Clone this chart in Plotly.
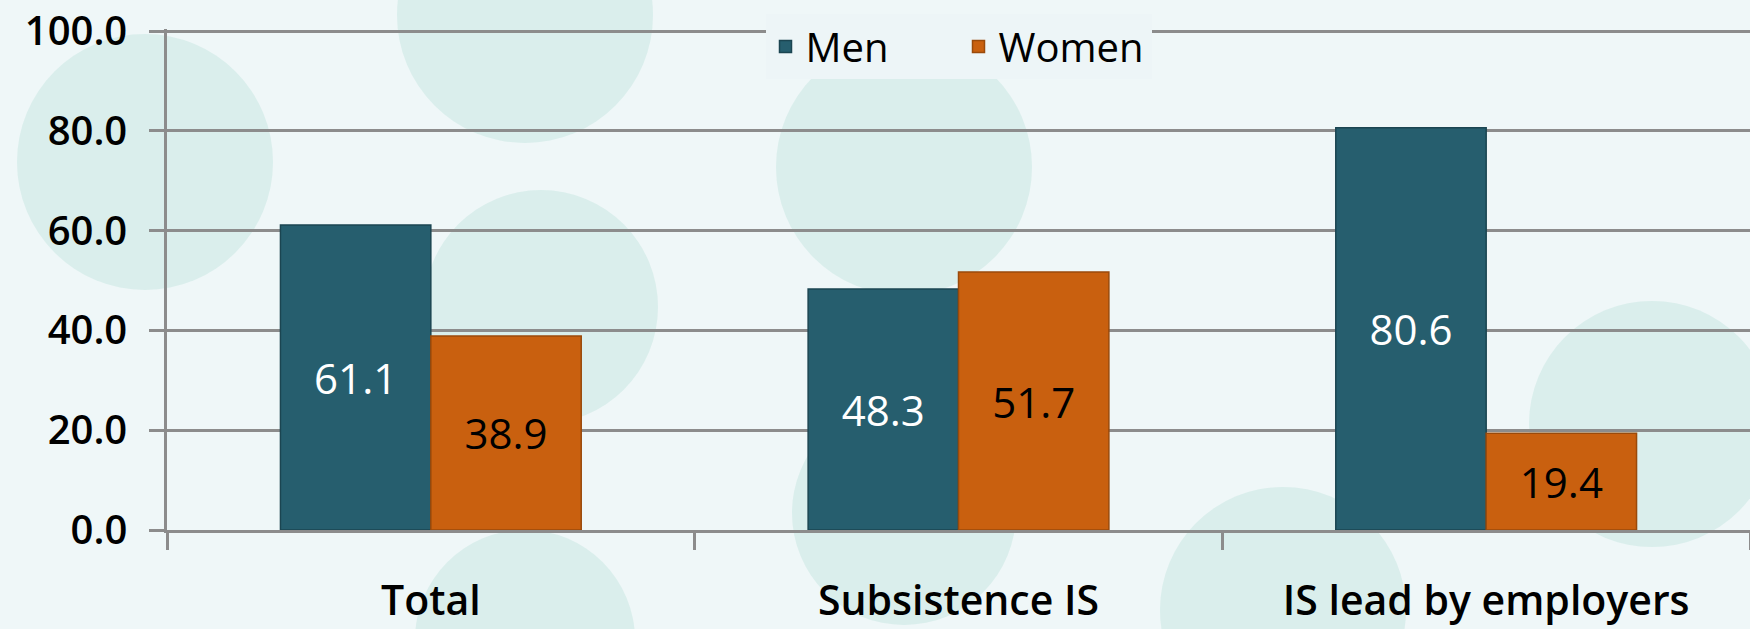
import plotly.graph_objects as go

categories = ["Total", "Subsistence IS", "IS lead by employers"]
men = [61.1, 48.3, 80.6]
women = [38.9, 51.7, 19.4]
series_names = ["Men", "Women"]
y_ticks = [0, 20, 40, 60, 80, 100]
y_tick_labels = ["0.0", "20.0", "40.0", "60.0", "80.0", "100.0"]

W, H = 1750, 629
L, R, T, B = 167, 0, 29, 99
PW, PH = W - L - R, H - T - B

FONT = "Open Sans"

fig = go.Figure()
fig.add_trace(go.Bar(
    name=series_names[0], x=categories, y=men,
    marker=dict(color="#265e6e", line=dict(color="#1b4551", width=1.5)),
    text=[f"{v:.1f}" for v in men], textposition="inside",
    insidetextanchor="middle", textangle=0,
    textfont=dict(family=FONT, size=42, color="white"),
))
fig.add_trace(go.Bar(
    name=series_names[1], x=categories, y=women,
    marker=dict(color="#c9600f", line=dict(color="#9a4a0b", width=1.5)),
    text=[f"{v:.1f}" for v in women], textposition="inside",
    insidetextanchor="middle", textangle=0,
    textfont=dict(family=FONT, size=42, color="black"),
))

# decorative background bubbles (pixel centre x, y, radius)
bubbles = [(145, 162, 128), (525, 15, 128), (904, 167, 128), (541, 307, 117),
           (904, 513, 112), (525, 640, 110), (1652, 424, 123), (1283, 610, 123)]
shapes = []
for cx, cy, r in bubbles:
    shapes.append(dict(
        type="circle", xref="paper", yref="paper", layer="below",
        x0=(cx - r - L) / PW, x1=(cx + r - L) / PW,
        y0=(H - B - (cy + r)) / PH, y1=(H - B - (cy - r)) / PH,
        fillcolor="rgba(170,218,210,0.3)", line=dict(width=0),
    ))

fig.update_layout(
    width=W, height=H,
    margin=dict(l=L, r=R, t=T, b=B, pad=0, autoexpand=False),
    paper_bgcolor="#eff7f8",
    plot_bgcolor="rgba(0,0,0,0)",
    barmode="group", bargap=0.43, bargroupgap=0,
    shapes=shapes,
    showlegend=True,
    legend=dict(
        orientation="h", x=0.5, xanchor="center", y=1.03, yanchor="top",
        bgcolor="#edf5f7", font=dict(family=FONT, size=40, color="black"),
        itemwidth=30, entrywidth=148, tracegroupgap=0,
    ),
    font=dict(family=FONT, color="black"),
)
fig.update_traces(constraintext="none", cliponaxis=False)
fig.update_yaxes(
    range=[0, 100.4], tickvals=y_ticks, ticktext=y_tick_labels,
    showgrid=True, gridcolor="#8c8c8c", gridwidth=2.5,
    showline=True, linecolor="#8c8c8c", linewidth=2.5,
    ticks="outside", ticklen=15, tickwidth=2.5, tickcolor="#8c8c8c",
    tickfont=dict(family=FONT, size=40, color="black", weight=600),
    ticklabelstandoff=14, zeroline=False, ticklabeloverflow="allow",
)
fig.update_xaxes(
    showline=True, linecolor="#8c8c8c", linewidth=2.5,
    ticks="outside", tickson="boundaries", ticklen=17, tickwidth=2.5,
    tickcolor="#8c8c8c",
    tickfont=dict(family=FONT, size=41, color="black", weight=600),
    ticklabelstandoff=33, ticklabeloverflow="allow",
)

fig.write_html(
    "out.html",
    config={"displayModeBar": False},
    post_script="document.body.style.margin='0';document.body.style.overflow='hidden';",
)
